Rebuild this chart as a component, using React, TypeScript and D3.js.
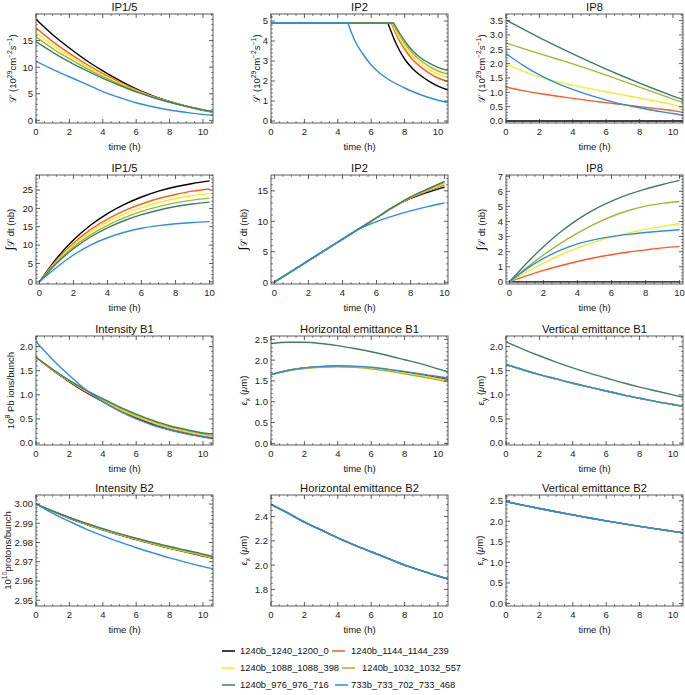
import React from 'react';
import * as d3 from 'd3';

// ---------- data ----------
const SERIES = [
  '1240b_1240_1200_0',
  '1240b_1144_1144_239',
  '1240b_1088_1088_398',
  '1240b_1032_1032_557',
  '1240b_976_976_716',
  '733b_733_702_733_468',
];
const COLORS = ['#000000', '#FF5A1F', '#F5EE1E', '#9CBA2E', '#3D7E6A', '#2A8CEB'];

const T = [0, 1, 2, 3, 4, 5, 6, 7, 8, 9, 10, 10.6];
const T_INT = [0, 1, 2, 3, 4, 5, 6, 7, 8, 9, 10];
const X_TICKS = [0, 2, 4, 6, 8, 10];

const IP15_LUMI = [
  [19.0, 16.1, 13.6, 11.3, 9.3, 7.5, 5.9, 4.6, 3.55, 2.65, 1.9, 1.55],
  [17.4, 14.8, 12.6, 10.6, 8.8, 7.2, 5.75, 4.5, 3.5, 2.65, 1.95, 1.6],
  [16.5, 14.1, 12.1, 10.2, 8.5, 7.0, 5.6, 4.45, 3.45, 2.65, 1.95, 1.6],
  [15.7, 13.5, 11.6, 9.8, 8.2, 6.8, 5.5, 4.4, 3.45, 2.65, 1.95, 1.62],
  [14.8, 12.8, 11.0, 9.4, 7.9, 6.6, 5.35, 4.3, 3.4, 2.65, 1.98, 1.65],
  [11.1, 9.6, 8.2, 6.8, 5.4, 4.3, 3.3, 2.55, 1.95, 1.5, 1.12, 0.95],
];

// IP2 luminosity: levelled, then decaying after the end of levelling (t, value)
const IP2_LUMI_BLACK = [[0, 4.9], [7.0, 4.9], [7.5, 3.85], [8, 3.1], [8.5, 2.6], [9, 2.25], [9.5, 1.97], [10, 1.74], [10.6, 1.55]];
const IP2_LUMI_ORANGE = [[0, 4.9], [7.2, 4.9], [7.6, 4.15], [8, 3.6], [8.5, 3.05], [9, 2.68], [9.5, 2.38], [10, 2.15], [10.6, 1.98]];
const IP2_LUMI_YELLOW = [[0, 4.9], [7.25, 4.9], [7.6, 4.28], [8, 3.75], [8.5, 3.22], [9, 2.85], [9.5, 2.56], [10, 2.35], [10.6, 2.18]];
const IP2_LUMI_YG = [[0, 4.9], [7.3, 4.9], [7.65, 4.35], [8, 3.9], [8.5, 3.38], [9, 3.0], [9.5, 2.72], [10, 2.5], [10.6, 2.33]];
const IP2_LUMI_TEAL = [[0, 4.9], [7.35, 4.9], [7.7, 4.4], [8, 4.02], [8.5, 3.5], [9, 3.14], [9.5, 2.88], [10, 2.68], [10.6, 2.52]];
const IP2_LUMI_BLUE = [[0, 4.9], [4.6, 4.9], [5, 4.05], [5.5, 3.35], [6, 2.8], [6.5, 2.4], [7, 2.1], [8, 1.65], [9, 1.3], [10, 1.04], [10.6, 0.92]];

const IP8_LUMI = [
  [0, 0, 0, 0, 0, 0, 0, 0, 0, 0, 0, 0],
  [1.18, 1.06, 0.96, 0.87, 0.79, 0.71, 0.64, 0.57, 0.5, 0.43, 0.36, 0.3],
  [1.98, 1.74, 1.54, 1.38, 1.25, 1.13, 1.02, 0.91, 0.8, 0.69, 0.57, 0.47],
  [2.72, 2.53, 2.35, 2.17, 1.99, 1.8, 1.6, 1.39, 1.18, 0.97, 0.76, 0.64],
  [3.52, 3.21, 2.91, 2.62, 2.34, 2.07, 1.81, 1.56, 1.32, 1.09, 0.87, 0.74],
  [2.35, 1.95, 1.61, 1.33, 1.1, 0.9, 0.73, 0.58, 0.46, 0.35, 0.26, 0.2],
];

const IP15_INT = [
  [0, 6.3, 11.4, 15.4, 18.6, 21.1, 23.1, 24.7, 25.9, 26.8, 27.5],
  [0, 5.8, 10.5, 14.2, 17.1, 19.4, 21.2, 22.7, 23.8, 24.7, 25.3],
  [0, 5.5, 10.0, 13.5, 16.3, 18.5, 20.2, 21.6, 22.7, 23.5, 24.1],
  [0, 5.2, 9.5, 12.8, 15.4, 17.5, 19.2, 20.5, 21.5, 22.25, 22.8],
  [0, 5.0, 9.0, 12.2, 14.7, 16.7, 18.3, 19.5, 20.5, 21.2, 21.7],
  [0, 3.9, 7.3, 10.0, 12.0, 13.5, 14.6, 15.3, 15.8, 16.15, 16.4],
];

const IP2_INT = [
  [0, 1.76, 3.53, 5.29, 7.06, 8.82, 10.58, 12.35, 13.75, 14.75, 15.6],
  [0, 1.76, 3.53, 5.29, 7.06, 8.82, 10.58, 12.35, 13.85, 14.95, 15.95],
  [0, 1.76, 3.53, 5.29, 7.06, 8.82, 10.58, 12.35, 13.9, 15.1, 16.15],
  [0, 1.76, 3.53, 5.29, 7.06, 8.82, 10.58, 12.35, 13.95, 15.2, 16.35],
  [0, 1.76, 3.53, 5.29, 7.06, 8.82, 10.58, 12.35, 14.0, 15.3, 16.55],
  [0, 1.76, 3.53, 5.29, 7.06, 8.75, 9.95, 10.9, 11.7, 12.4, 13.0],
];

const IP8_INT = [
  [0, 0, 0, 0, 0, 0, 0, 0, 0, 0, 0],
  [0, 0.4, 0.76, 1.07, 1.35, 1.6, 1.8, 1.98, 2.12, 2.25, 2.35],
  [0, 0.65, 1.25, 1.78, 2.25, 2.65, 2.98, 3.25, 3.48, 3.68, 3.85],
  [0, 0.93, 1.78, 2.55, 3.23, 3.83, 4.33, 4.73, 5.02, 5.2, 5.32],
  [0, 1.22, 2.33, 3.3, 4.12, 4.8, 5.35, 5.8, 6.15, 6.45, 6.72],
  [0, 0.85, 1.55, 2.1, 2.52, 2.8, 3.0, 3.15, 3.27, 3.37, 3.45],
];

const INTENSITY_B1 = [
  [1.78, 1.51, 1.27, 1.05, 0.86, 0.68, 0.52, 0.39, 0.28, 0.2, 0.13, 0.1],
  [1.78, 1.51, 1.28, 1.06, 0.87, 0.69, 0.54, 0.41, 0.3, 0.22, 0.15, 0.12],
  [1.78, 1.52, 1.29, 1.08, 0.89, 0.71, 0.56, 0.43, 0.32, 0.24, 0.17, 0.14],
  [1.78, 1.52, 1.29, 1.09, 0.9, 0.73, 0.58, 0.45, 0.34, 0.26, 0.19, 0.16],
  [1.78, 1.53, 1.3, 1.1, 0.92, 0.75, 0.6, 0.47, 0.36, 0.28, 0.21, 0.19],
  [2.1, 1.73, 1.4, 1.1, 0.86, 0.66, 0.5, 0.37, 0.27, 0.19, 0.13, 0.1],
];

const EX_B1 = [
  [1.65, 1.75, 1.81, 1.845, 1.855, 1.845, 1.815, 1.765, 1.71, 1.645, 1.575, 1.53],
  [1.65, 1.75, 1.81, 1.84, 1.85, 1.84, 1.81, 1.755, 1.7, 1.635, 1.565, 1.52],
  [1.65, 1.75, 1.805, 1.835, 1.845, 1.83, 1.8, 1.745, 1.685, 1.62, 1.55, 1.5],
  [1.65, 1.745, 1.8, 1.83, 1.84, 1.825, 1.79, 1.735, 1.67, 1.6, 1.525, 1.47],
  [2.4, 2.43, 2.43, 2.4, 2.35, 2.28, 2.2, 2.11, 2.01, 1.91, 1.79, 1.72],
  [1.65, 1.75, 1.815, 1.85, 1.865, 1.855, 1.83, 1.785, 1.73, 1.67, 1.605, 1.57],
];

const EY_B1 = [
  [1.63, 1.52, 1.42, 1.33, 1.24, 1.16, 1.08, 1.0, 0.93, 0.86, 0.8, 0.76],
  [1.63, 1.52, 1.42, 1.33, 1.24, 1.16, 1.08, 1.0, 0.93, 0.86, 0.8, 0.76],
  [1.63, 1.52, 1.42, 1.33, 1.24, 1.16, 1.08, 1.0, 0.93, 0.86, 0.8, 0.76],
  [1.63, 1.52, 1.42, 1.33, 1.24, 1.16, 1.08, 1.0, 0.93, 0.86, 0.8, 0.76],
  [2.1, 1.95, 1.81, 1.68, 1.56, 1.45, 1.35, 1.25, 1.16, 1.08, 1.0, 0.95],
  [1.63, 1.52, 1.42, 1.33, 1.24, 1.16, 1.08, 1.0, 0.93, 0.86, 0.8, 0.76],
];

const INTENSITY_B2 = [
  [3.0, 2.9962, 2.9926, 2.9895, 2.9866, 2.984, 2.9815, 2.9792, 2.977, 2.975, 2.973, 2.9718],
  [3.0, 2.9962, 2.9927, 2.9896, 2.9867, 2.9841, 2.9816, 2.9793, 2.9771, 2.9751, 2.9731, 2.9719],
  [3.0, 2.9963, 2.9928, 2.9897, 2.9868, 2.9842, 2.9818, 2.9795, 2.9773, 2.9753, 2.9733, 2.9721],
  [3.0, 2.9963, 2.9929, 2.9898, 2.987, 2.9844, 2.982, 2.9797, 2.9775, 2.9756, 2.9736, 2.9724],
  [3.0, 2.9964, 2.993, 2.99, 2.9872, 2.9846, 2.9822, 2.98, 2.9779, 2.976, 2.974, 2.9728],
  [3.0, 2.9952, 2.991, 2.987, 2.9835, 2.9803, 2.9773, 2.9746, 2.972, 2.9697, 2.9675, 2.9664],
];

const EX_B2 = [2.5, 2.43, 2.355, 2.29, 2.225, 2.165, 2.11, 2.055, 2.0, 1.955, 1.91, 1.885];
const EY_B2 = [2.48, 2.395, 2.313, 2.233, 2.156, 2.082, 2.011, 1.943, 1.878, 1.816, 1.756, 1.72];

// ---------- layout ----------
const FONT = "'Liberation Sans', Arial, Helvetica, sans-serif";
const COL_X = [36, 271, 506];
const ROW_Y = [14, 175, 336, 495];
const PW = 177;
const PH = [109, 109, 109, 111];
const YLABEL_X = [
  [13, 257, 482],
  [11, 244, 482],
  [11, 244, 481],
  [8, 244, 480],
];

type Seg = { t: string; sup?: boolean; sub?: boolean; it?: boolean; big?: boolean };

function rich(segs: Seg[], fs: number) {
  let cur = 0;
  return segs.map((s, i) => {
    const target = s.sup ? -fs * 0.42 : s.sub ? fs * 0.28 : 0;
    const dy = target - cur;
    cur = target;
    return (
      <tspan key={i} dy={dy} fontSize={s.sup || s.sub ? fs * 0.72 : s.big ? fs * 1.25 : fs} fontStyle={s.it ? 'italic' : 'normal'}>
        {s.t}
      </tspan>
    );
  });
}

type SeriesData = [number, number][];

interface PanelSpec {
  title: string;
  ylabel: Seg[];
  xDomain: [number, number];
  yDomain: [number, number];
  yTicks: number[];
  yMinor: number;
  yFmt: (v: number) => string;
  series: SeriesData[];
  kinked?: boolean;
}

const zip = (t: number[], v: number[]): SeriesData => t.map((x, i) => [x, v[i]]);

const LUMI_LABEL: Seg[] = [
  { t: 'ℒ (10' }, { t: '29', sup: true }, { t: 'cm' }, { t: '−2', sup: true }, { t: 's', it: true }, { t: '−1', sup: true }, { t: ')' },
];
const INT_LABEL: Seg[] = [{ t: '∫', big: true }, { t: 'ℒ dt (nb)' }];
const EX_LABEL: Seg[] = [{ t: 'ε' }, { t: 'x', sub: true }, { t: ' (' }, { t: 'μ', it: true }, { t: 'm)' }];
const EY_LABEL: Seg[] = [{ t: 'ε' }, { t: 'y', sub: true }, { t: ' (' }, { t: 'μ', it: true }, { t: 'm)' }];

const f0 = d3.format('d');
const f1 = d3.format('.1f');
const f2 = d3.format('.2f');
const XR: [number, number] = [0, 10.6];
const XI: [number, number] = [-0.2, 10.2];

const PANELS: PanelSpec[] = [
  { title: 'IP1/5', ylabel: LUMI_LABEL, xDomain: XR, yDomain: [-0.5, 20], yTicks: [0, 5, 10, 15], yMinor: 1, yFmt: f0, series: IP15_LUMI.map((v) => zip(T, v)) },
  {
    title: 'IP2', ylabel: LUMI_LABEL, xDomain: XR, yDomain: [-0.1, 5.35], yTicks: [0, 1, 2, 3, 4, 5], yMinor: 0.2, yFmt: f0,
    series: [IP2_LUMI_BLACK, IP2_LUMI_ORANGE, IP2_LUMI_YELLOW, IP2_LUMI_YG, IP2_LUMI_TEAL, IP2_LUMI_BLUE] as SeriesData[], kinked: true,
  },
  { title: 'IP8', ylabel: LUMI_LABEL, xDomain: XR, yDomain: [-0.07, 3.73], yTicks: [0, 0.5, 1, 1.5, 2, 2.5, 3, 3.5], yMinor: 0.1, yFmt: f1, series: IP8_LUMI.map((v) => zip(T, v)) },
  { title: 'IP1/5', ylabel: INT_LABEL, xDomain: XI, yDomain: [-0.6, 29.1], yTicks: [0, 5, 10, 15, 20, 25], yMinor: 1, yFmt: f0, series: IP15_INT.map((v) => zip(T_INT, v)) },
  { title: 'IP2', ylabel: INT_LABEL, xDomain: XI, yDomain: [-0.3, 17.6], yTicks: [0, 5, 10, 15], yMinor: 1, yFmt: f0, series: IP2_INT.map((v) => zip(T_INT, v)) },
  { title: 'IP8', ylabel: INT_LABEL, xDomain: XI, yDomain: [-0.14, 7.08], yTicks: [0, 1, 2, 3, 4, 5, 6, 7], yMinor: 0.2, yFmt: f0, series: IP8_INT.map((v) => zip(T_INT, v)) },
  { title: 'Intensity B1', ylabel: [{ t: '10' }, { t: '8', sup: true }, { t: ' Pb ions/bunch' }], xDomain: XR, yDomain: [-0.04, 2.22], yTicks: [0, 0.5, 1, 1.5, 2], yMinor: 0.1, yFmt: f1, series: INTENSITY_B1.map((v) => zip(T, v)) },
  { title: 'Horizontal emittance B1', ylabel: EX_LABEL, xDomain: XR, yDomain: [-0.04, 2.58], yTicks: [0, 0.5, 1, 1.5, 2, 2.5], yMinor: 0.1, yFmt: f1, series: EX_B1.map((v) => zip(T, v)) },
  { title: 'Vertical emittance B1', ylabel: EY_LABEL, xDomain: XR, yDomain: [-0.04, 2.22], yTicks: [0, 0.5, 1, 1.5, 2], yMinor: 0.1, yFmt: f1, series: EY_B1.map((v) => zip(T, v)) },
  { title: 'Intensity B2', ylabel: [{ t: '10' }, { t: '10', sup: true }, { t: 'protons/bunch' }], xDomain: XR, yDomain: [2.947, 3.0047], yTicks: [2.95, 2.96, 2.97, 2.98, 2.99, 3.0], yMinor: 0.002, yFmt: f2, series: INTENSITY_B2.map((v) => zip(T, v)) },
  { title: 'Horizontal emittance B2', ylabel: EX_LABEL, xDomain: XR, yDomain: [1.663, 2.578], yTicks: [1.8, 2.0, 2.2, 2.4], yMinor: 0.05, yFmt: f1, series: SERIES.map(() => zip(T, EX_B2)) },
  { title: 'Vertical emittance B2', ylabel: EY_LABEL, xDomain: XR, yDomain: [-0.06, 2.64], yTicks: [0, 0.5, 1, 1.5, 2, 2.5], yMinor: 0.1, yFmt: f1, series: SERIES.map(() => zip(T, EY_B2)) },
];

function range(a: number, b: number, step: number) {
  const out: number[] = [];
  const n = Math.round((b - a) / step);
  for (let i = 0; i <= n; i++) out.push(+(a + i * step).toFixed(6));
  return out;
}

function Panel({ spec, idx }: { spec: PanelSpec; idx: number }) {
  const row = Math.floor(idx / 3);
  const col = idx % 3;
  const x0 = COL_X[col];
  const y0 = ROW_Y[row];
  const h = PH[row];
  const x = d3.scaleLinear().domain(spec.xDomain).range([x0, x0 + PW]);
  const y = d3.scaleLinear().domain(spec.yDomain).range([y0 + h, y0]);
  const line = d3.line<[number, number]>().x((d) => x(d[0])).y((d) => y(d[1])).curve(d3.curveMonotoneX);

  const xMinor = range(Math.ceil(spec.xDomain[0] / 0.5) * 0.5, Math.floor(spec.xDomain[1] / 0.5) * 0.5, 0.5).filter((v) => !X_TICKS.includes(v));
  const yMinor = range(Math.ceil(spec.yDomain[0] / spec.yMinor) * spec.yMinor, Math.floor(spec.yDomain[1] / spec.yMinor) * spec.yMinor, spec.yMinor)
    .filter((v) => !spec.yTicks.some((t) => Math.abs(t - v) < spec.yMinor / 10));

  const clipId = `clip${idx}`;
  const tickColor = '#333';
  const paths = spec.series.map((s) => {
    if (spec.kinked) {
      const decay = s.slice(1);
      const d = line(decay) || '';
      return `M${x(s[0][0])},${y(s[0][1])}L${d.slice(1)}`;
    }
    return line(s) || '';
  });

  const labelFs = 9.5;
  const ylx = YLABEL_X[row][col];

  return (
    <g>
      <defs>
        <clipPath id={clipId}>
          <rect x={x0} y={y0} width={PW} height={h} />
        </clipPath>
      </defs>
      <g clipPath={`url(#${clipId})`}>
        {paths.map((d, i) => (
          <path key={i} d={d} fill="none" stroke={COLORS[i]} strokeWidth={1.4} />
        ))}
      </g>
      <rect x={x0} y={y0} width={PW} height={h} fill="none" stroke="#6b6b6b" strokeWidth={1.1} />
      {X_TICKS.map((t) => (
        <g key={`xt${t}`}>
          <line x1={x(t)} x2={x(t)} y1={y0 + h} y2={y0 + h - 4} stroke={tickColor} strokeWidth={0.8} />
          <line x1={x(t)} x2={x(t)} y1={y0} y2={y0 + 4} stroke={tickColor} strokeWidth={0.8} />
          <text x={x(t)} y={y0 + h + 12} textAnchor="middle" fontSize={9.5} fontFamily={FONT} fill="#222">{t}</text>
        </g>
      ))}
      {xMinor.map((t) => (
        <g key={`xm${t}`}>
          <line x1={x(t)} x2={x(t)} y1={y0 + h} y2={y0 + h - 2} stroke={tickColor} strokeWidth={0.6} />
          <line x1={x(t)} x2={x(t)} y1={y0} y2={y0 + 2} stroke={tickColor} strokeWidth={0.6} />
        </g>
      ))}
      {spec.yTicks.map((t) => (
        <g key={`yt${t}`}>
          <line x1={x0} x2={x0 + 4} y1={y(t)} y2={y(t)} stroke={tickColor} strokeWidth={0.8} />
          <line x1={x0 + PW} x2={x0 + PW - 4} y1={y(t)} y2={y(t)} stroke={tickColor} strokeWidth={0.8} />
          <text x={x0 - 3} y={y(t) + 3.4} textAnchor="end" fontSize={9.5} fontFamily={FONT} fill="#222">{spec.yFmt(t)}</text>
        </g>
      ))}
      {yMinor.map((t) => (
        <g key={`ym${t}`}>
          <line x1={x0} x2={x0 + 2} y1={y(t)} y2={y(t)} stroke={tickColor} strokeWidth={0.6} />
          <line x1={x0 + PW} x2={x0 + PW - 2} y1={y(t)} y2={y(t)} stroke={tickColor} strokeWidth={0.6} />
        </g>
      ))}
      <text x={x0 + PW / 2} y={y0 - 3.5} textAnchor="middle" fontSize={11.2} fontFamily={FONT} fill="#111">{spec.title}</text>
      <text x={x0 + PW / 2} y={y0 + h + 27} textAnchor="middle" fontSize={labelFs} fontFamily={FONT} fill="#111">time (h)</text>
      <g transform={`translate(${ylx},${y0 + h / 2}) rotate(-90)`}>
        <text x={0} y={labelFs * 0.35} textAnchor="middle" fontSize={labelFs} fontFamily={FONT} fill="#111">
          {rich(spec.ylabel, labelFs)}
        </text>
      </g>
    </g>
  );
}

const LEGEND_ROWS = [[0, 1], [2, 3], [4, 5]];
const LEGEND_Y = [651, 668, 685];
const LEGEND_COL2_X = [332, 342, 335];
const LEGEND_COL2_TX = [351, 362, 351];

export default function App() {
  return (
    <svg width={685} height={695} style={{ position: 'absolute', left: 0, top: 0, background: '#fff' }}>
      <rect width={685} height={695} fill="#fff" />
      {PANELS.map((p, i) => (
        <Panel key={i} spec={p} idx={i} />
      ))}
      {LEGEND_ROWS.map((pair, r) => (
        <g key={r}>
          {pair.map((si, c) => {
            const lx = c === 0 ? 222 : LEGEND_COL2_X[r];
            const tx = c === 0 ? 240 : LEGEND_COL2_TX[r];
            return (
              <g key={si}>
                <line x1={lx} x2={lx + 13} y1={LEGEND_Y[r]} y2={LEGEND_Y[r]} stroke={COLORS[si]} strokeWidth={1.5} />
                <text x={tx} y={LEGEND_Y[r] + 3.3} fontSize={9.4} fontFamily={FONT} fill="#111">{SERIES[si]}</text>
              </g>
            );
          })}
        </g>
      ))}
    </svg>
  );
}
